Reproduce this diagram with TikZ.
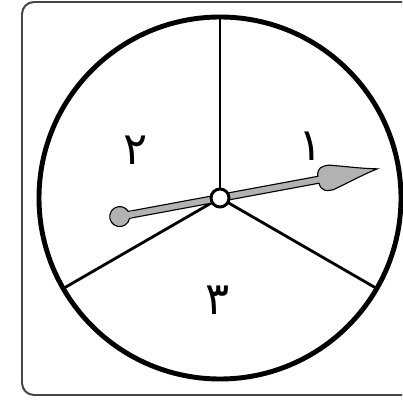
\documentclass[tikz,border=0pt]{standalone}
\usepackage{fontspec}
\newfontfamily\farsifont[Script=Arabic]{DejaVu Sans}
\TeXXeTstate=1
\begin{document}
\begin{tikzpicture}[x=0.25mm,y=-0.25mm,line width=.5pt]
\path[use as bounding box] (0,0) rectangle (402,403);
\draw[rounded corners=3mm,line width=1.4pt,gray!55!black] (402,2) -- (22,2) -- (22,395) -- (402,395);
\coordinate (hub) at (220,198);
\draw[line width=3.5pt] (hub) circle (181);
\draw[line width=2pt] (hub) -- ++(90:-181) coordinate (top);
\draw[line width=2pt] (hub) -- ++(210:-181) coordinate (left);
\draw[line width=2pt] (hub) -- ++(330:-181) coordinate (right);
\node[anchor=center,inner sep=1pt,font=\farsifont\fontsize{32}{36}\selectfont] (one) at (311,146) {\beginR ۱\endR};
\node[anchor=center,inner sep=1pt,font=\farsifont\fontsize{32}{36}\selectfont] (two) at (136,150) {\beginR ۲\endR};
\node[anchor=center,inner sep=1pt,font=\farsifont\fontsize{32}{36}\selectfont] (three) at (218,300) {\beginR ۳\endR};
\begin{scope}[shift={(hub)},rotate=10.5]
\draw[fill=gray!60,line width=.8pt] (-95,-3.5) -- (100,-3.5) .. controls (101,-12) and (106,-13) .. (113,-12.5) .. controls (130,-8) and (145,-3) .. (160,0) .. controls (145,3) and (130,8) .. (113,12.5) .. controls (106,13) and (101,12) .. (100,3.5) -- (-95,3.5) -- cycle;
\draw[fill=gray!60,line width=.8pt] (-102,0) circle (10);
\fill[gray!60] (-95,-2.9) rectangle (-88,2.9);
\end{scope}
\draw[fill=white,line width=2.1pt] (hub) circle (9);
\end{tikzpicture}
\end{document}
